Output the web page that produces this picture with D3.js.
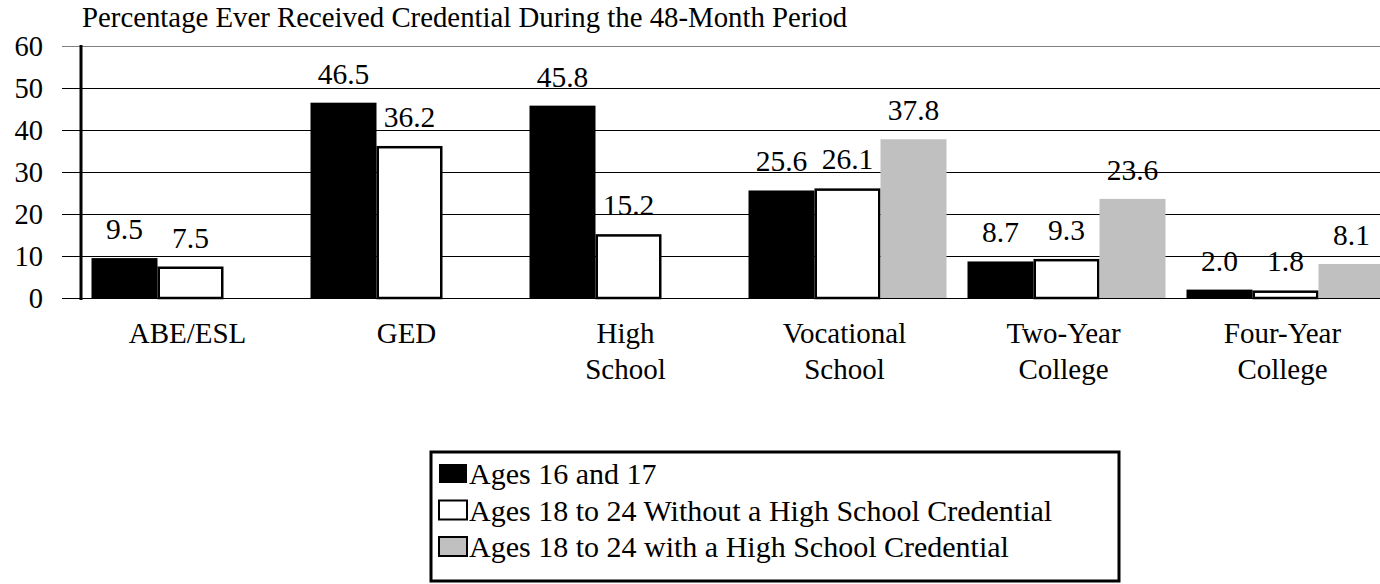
<!DOCTYPE html>
<html>
<head>
<meta charset="utf-8">
<script src="https://cdn.jsdelivr.net/npm/d3@7"></script>
<style>
  html, body { margin: 0; padding: 0; background: #fff; }
  svg { display: block; }
  text { font-family: "Liberation Serif", "Times New Roman", serif; fill: #000; }
</style>
</head>
<body>
<svg id="chart" width="1380" height="584"></svg>
<script>
const categories = ["ABE/ESL", "GED", "High School", "Vocational School", "Two-Year College", "Four-Year College"];
const categoryLines = [["ABE/ESL"], ["GED"], ["High", "School"], ["Vocational", "School"], ["Two-Year", "College"], ["Four-Year", "College"]];
const seriesNames = ["Ages 16 and 17", "Ages 18 to 24 Without a High School Credential", "Ages 18 to 24 with a High School Credential"];
const ages16to17 = [9.5, 46.5, 45.8, 25.6, 8.7, 2.0];
const ages18to24NoHS = [7.5, 36.2, 15.2, 26.1, 9.3, 1.8];
const ages18to24WithHS = [null, null, null, 37.8, 23.6, 8.1];
const yTicks = [0, 10, 20, 30, 40, 50, 60];
const title = "Percentage Ever Received Credential During the 48-Month Period";

const seriesValues = [ages16to17, ages18to24NoHS, ages18to24WithHS];
const fills = ["#000000", "#ffffff", "#c0c0c0"];
const strokes = ["none", "#000000", "none"];

const svg = d3.select("#chart");
const FS = 28.5;

const y = d3.scaleLinear().domain([0, 60]).range([298, 46]);
const p = 21 / 219;
const x0 = d3.scaleBand().domain(categories).range([81, 1395]).paddingInner(p).paddingOuter(p / 2);
const x1 = d3.scaleBand().domain(d3.range(seriesNames.length)).range([0, x0.bandwidth()]);

// title
svg.append("text").attr("x", 82).attr("y", 27).attr("font-size", 28.8).text(title);

// gridlines
svg.append("g").selectAll("line").data(yTicks).join("line")
  .attr("x1", 62).attr("x2", 1380)
  .attr("y1", d => Math.round(y(d)) + 0.5).attr("y2", d => Math.round(y(d)) + 0.5)
  .attr("stroke", d => d === 60 ? "#808080" : "#000").attr("stroke-width", 1);

// y tick labels
svg.append("g").selectAll("text").data(yTicks).join("text")
  .attr("x", 43).attr("y", d => y(d)).attr("dy", "0.34em")
  .attr("text-anchor", "end").attr("font-size", FS).text(d => d);

// bars
const rows = [];
categories.forEach((c, i) => {
  seriesValues.forEach((vals, s) => {
    if (vals[i] != null) rows.push({ c, s, v: vals[i] });
  });
});

svg.append("g").selectAll("rect").data(rows).join("rect")
  .attr("x", d => x0(d.c) + x1(d.s) + (strokes[d.s] !== "none" ? 1.25 : 0))
  .attr("y", d => y(d.v) + (strokes[d.s] !== "none" ? 1.25 : 0))
  .attr("width", d => x1.bandwidth() - (strokes[d.s] !== "none" ? 2.5 : 0))
  .attr("height", d => y(0) - y(d.v) - (strokes[d.s] !== "none" ? 1.25 : 0))
  .attr("fill", d => fills[d.s])
  .attr("stroke", d => strokes[d.s])
  .attr("stroke-width", 2.5);

// value labels
svg.append("g").selectAll("text").data(rows).join("text")
  .attr("x", d => x0(d.c) + x1(d.s) + x1.bandwidth() / 2)
  .attr("y", d => y(d.v) - 19)
  .attr("text-anchor", "middle").attr("font-size", 29.5)
  .text(d => d.v.toFixed(1));

// y axis line
svg.append("line").attr("x1", 81).attr("x2", 81).attr("y1", 45).attr("y2", 300)
  .attr("stroke", "#000").attr("stroke-width", 3);

// category labels
const cat = svg.append("g").selectAll("text").data(categories).join("text")
  .attr("x", d => x0(d) + x0.bandwidth() / 2)
  .attr("y", 343).attr("text-anchor", "middle").attr("font-size", 29);
cat.each(function (d, i) {
  d3.select(this).selectAll("tspan").data(categoryLines[i]).join("tspan")
    .attr("x", x0(d) + x0.bandwidth() / 2 - 3)
    .attr("dy", (t, j) => j === 0 ? 0 : 36)
    .text(t => t);
});

// legend
const lg = svg.append("g");
lg.append("rect").attr("x", 431).attr("y", 452).attr("width", 688).attr("height", 129)
  .attr("fill", "#fff").attr("stroke", "#000").attr("stroke-width", 3);
const items = lg.selectAll("g.item").data(seriesNames).join("g").attr("class", "item")
  .attr("transform", (d, i) => `translate(0, ${474 + i * 36.5})`);
items.append("rect")
  .attr("x", 439).attr("y", -10).attr("width", 28).attr("height", 19)
  .attr("fill", (d, i) => fills[i])
  .attr("stroke", (d, i) => i === 0 ? "none" : "#000").attr("stroke-width", 2);
items.append("text").attr("x", 469).attr("y", 0).attr("dy", "0.34em")
  .attr("font-size", 30).text(d => d);
</script>
</body>
</html>
